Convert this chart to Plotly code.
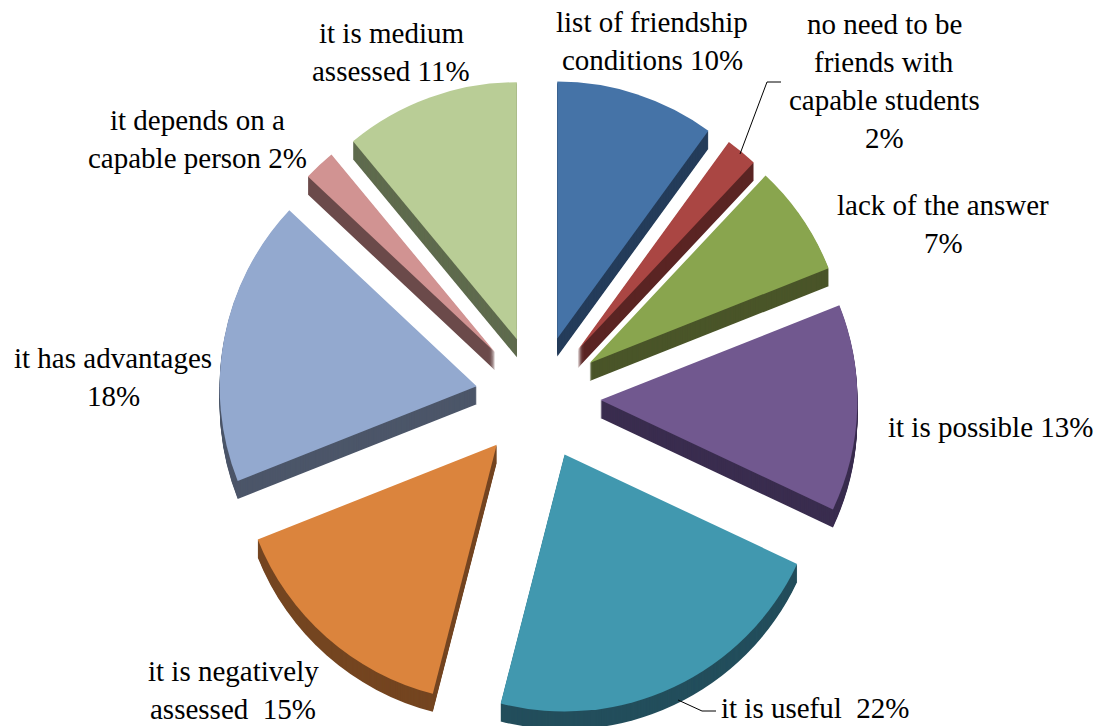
import plotly.graph_objects as go

# Answer shares, clockwise from twelve o'clock
categories = [
    "list of friendship conditions",
    "no need to be friends with capable students",
    "lack of the answer",
    "it is possible",
    "it is useful",
    "it is negatively assessed",
    "it has advantages",
    "it depends on a capable person",
    "it is medium assessed",
]
values = [10, 2, 7, 13, 22, 15, 18, 2, 11]
top_colors = ["#4573A7", "#AA4643", "#89A54E", "#71588F", "#4198AF",
              "#DB843D", "#93A9CF", "#D19392", "#B9CD96"]
side_colors = ["#243C5A", "#5A2423", "#4A5529", "#3A2D4F", "#234E5C",
               "#744520", "#4C5669", "#6B4A4A", "#5F6B4E"]
label_lines = [
    ["list of friendship", "conditions {}%"],
    ["no need to be", "friends with", "capable students", "{}%"],
    ["lack of the answer", "{}%"],
    ["it is possible {}%"],
    ["it is useful\u00a0 {}%"],
    ["it is negatively", "assessed\u00a0 {}%"],
    ["it has advantages", "{}%"],
    ["it depends on a", "capable person {}%"],
    ["it is medium", "assessed {}%"],
]

# Layout in pixels; the canvas runs a little past the window so the lowered
# side layers keep their full radius
WIDTH, HEIGHT = 1099, 770
CX, CY = 538, 398
RADIUS = 257
PULL = 0.243
DEPTH = 18
FONT = dict(family="Liberation Serif", size=29, color="#000000")
LINE_GAP = 38
label_anchor = [(652, 22), (884, 24), (943, 205), (990, 427), (815, 708),
                (233, 671), (113, 358), (197, 120), (391, 33)]
leaders = [[(740, 154), (767, 82), (781, 82)],
           [(678, 700), (702, 711), (716, 711)]]


def px(x):
    return x / WIDTH


def py(y):
    return 1 - y / HEIGHT


def slice_layer(offset, colors):
    half = RADIUS * (1 + PULL)
    return go.Pie(
        values=values,
        labels=categories,
        sort=False,
        direction="clockwise",
        rotation=0,
        pull=PULL,
        textinfo="none",
        hoverinfo="label+percent",
        showlegend=False,
        marker=dict(colors=colors, line=dict(width=0)),
        domain=dict(x=[px(CX - half), px(CX + half)],
                    y=[py(CY + offset + half), py(CY + offset - half)]),
    )


fig = go.Figure()

# Side walls: the same pie repeated downward, one pixel at a time
for offset in range(DEPTH, 0, -1):
    fig.add_trace(slice_layer(offset, side_colors))
fig.add_trace(slice_layer(0, top_colors))

annotations = []
for lines, value, (x, y) in zip(label_lines, values, label_anchor):
    for i, line in enumerate(lines):
        annotations.append(dict(
            x=px(x), y=py(y + i * LINE_GAP), xref="paper", yref="paper",
            text=line.format(value), showarrow=False, font=FONT,
            xanchor="center", yanchor="middle",
        ))

shapes = []
for points in leaders:
    for (x0, y0), (x1, y1) in zip(points, points[1:]):
        shapes.append(dict(type="line", xref="paper", yref="paper",
                           x0=px(x0), y0=py(y0), x1=px(x1), y1=py(y1),
                           line=dict(color="#000000", width=1)))

fig.update_layout(
    width=WIDTH, height=HEIGHT,
    margin=dict(l=0, r=0, t=0, b=0),
    paper_bgcolor="#FFFFFF",
    annotations=annotations,
    shapes=shapes,
)

fig.write_html("out.html", post_script="document.body.style.overflow='hidden';document.documentElement.style.overflow='hidden';")
